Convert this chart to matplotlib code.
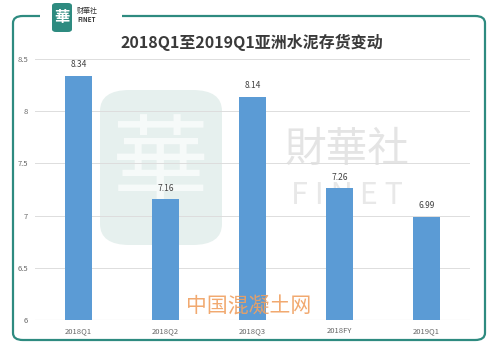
import matplotlib
matplotlib.use('Agg')
from matplotlib import pyplot as plt
from matplotlib.patches import FancyBboxPatch, Rectangle

plt.rcParams['font.family'] = ['Noto Sans CJK SC', 'DejaVu Sans']

# data
periodos = ['2018Q1', '2018Q2', '2018Q3', '2018FY', '2019Q1']
inventario = [8.34, 7.16, 8.14, 7.26, 6.99]
yticks = [6, 6.5, 7, 7.5, 8, 8.5]
titulo = '2018Q1至2019Q1亚洲水泥存货变动'

W, H = 492, 351
fig = plt.figure(figsize=(W/100, H/100), dpi=100)

def fx(px):
    return px/W

def fy(py):
    return 1 - py/H

teal = '#2e8b80'

# marco
marco = FancyBboxPatch((fx(13), fy(340)), fx(472), fy(16) - fy(340),
                       boxstyle='round,pad=0,rounding_size=0.02', transform=fig.transFigure,
                       fill=False, edgecolor=teal, linewidth=1.6, zorder=0)
fig.patches.append(marco)
fig.patches.append(Rectangle((fx(40), fy(22)), fx(82), fy(10) - fy(22), transform=fig.transFigure,
                             facecolor='white', edgecolor='none', zorder=0.1))

# logo
fig.patches.append(FancyBboxPatch((fx(52), fy(32)), fx(20), fy(3) - fy(32),
                                  boxstyle='round,pad=0,rounding_size=0.008', transform=fig.transFigure,
                                  facecolor=teal, edgecolor='none', zorder=0.2))
fig.text(fx(62), fy(17), '華', color='white', fontsize=11, ha='center', va='center', fontweight='bold', zorder=0.3)
fig.text(fx(77), fy(11), '财華社', color='#333333', fontsize=5, ha='left', va='center')
fig.text(fx(77), fy(20), 'FINET', color='#333333', fontsize=4.5, ha='left', va='center', fontweight='bold')

fig.text(fx(252), fy(42), titulo, color='#3a3a3a', fontsize=11.5, ha='center', va='center', fontweight='semibold')

# marca de agua
fig.patches.append(FancyBboxPatch((fx(100), fy(245)), fx(122), fy(90) - fy(245),
                                  boxstyle='round,pad=0,rounding_size=0.06', transform=fig.transFigure,
                                  facecolor='#e6f0ee', edgecolor='none', zorder=0.4))
fig.text(fx(161), fy(168), '華', color='#f6faf9', fontsize=70, ha='center', va='center', zorder=0.5)
fig.text(fx(347), fy(150), '財華社', color='#e4e4e4', fontsize=30, ha='center', va='center', zorder=0.5)
fig.text(fx(347), fy(195), 'F I N E T', color='#e8e8e8', fontsize=22, ha='center', va='center', zorder=0.5)

ax = fig.add_axes([fx(35), fy(320), fx(470) - fx(35), fy(59) - fy(320)])
ax.set_zorder(2)
ax.patch.set_alpha(0)

x = range(len(periodos))
ax.bar(x, inventario, width=0.3, color='#5b9bd5', zorder=3)
for xi, v in zip(x, inventario):
    ax.text(xi, v + 0.06, f'{v:.2f}', ha='center', va='bottom', fontsize=6, color='#404040')

ax.set_ylim(6, 8.5)
ax.set_xlim(-0.5, 4.5)
ax.set_yticks(yticks)
ax.set_yticklabels([f'{t:g}' for t in yticks])
ax.set_xticks(list(x))
ax.set_xticklabels(periodos)
ax.tick_params(axis='both', length=0, labelsize=5.5, colors='#666666')
ax.tick_params(axis='x', pad=5)
ax.tick_params(axis='y', pad=5)
ax.grid(axis='y', color='#dddddd', linewidth=0.7, zorder=0)
for s in ax.spines.values():
    s.set_visible(False)
ax.axhline(6, color='#cccccc', linewidth=0.8, zorder=2)

fig.text(fx(249), fy(307), '中国混凝土网', color='#f0a060', fontsize=15, ha='center', va='center', alpha=0.9, zorder=10)

fig.savefig('out.png', dpi=100)
